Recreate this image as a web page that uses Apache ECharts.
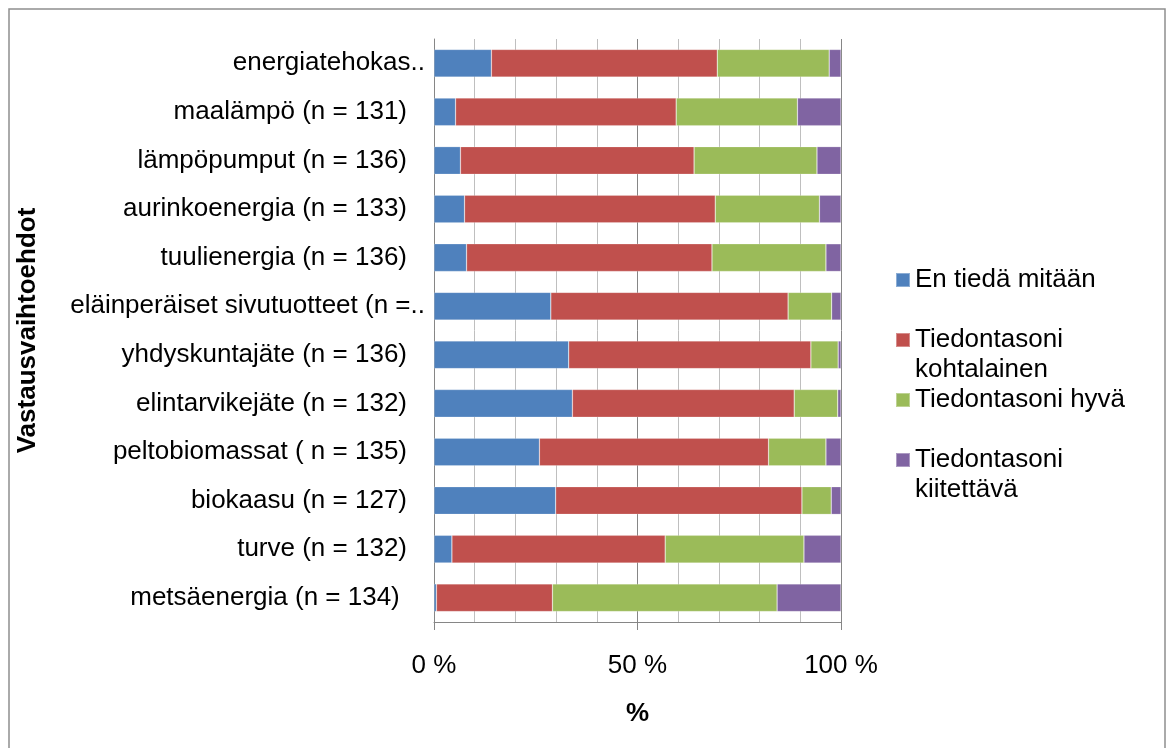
<!DOCTYPE html>
<html>
<head>
<meta charset="utf-8">
<title>Tiedontaso energiamuodoista</title>
<script src="https://cdn.jsdelivr.net/npm/echarts@6/dist/echarts.min.js"></script>
<style>
  html, body { margin: 0; padding: 0; background: #fff; }
  #chart { width: 1170px; height: 748px; }
</style>
</head>
<body>
<div id="chart"></div>
<script>
// Vastausvaihtoehdot, ylhäältä alas
const categories = [
  'energiatehokas..',
  'maalämpö (n = 131)',
  'lämpöpumput (n = 136)',
  'aurinkoenergia (n = 133)',
  'tuulienergia (n = 136)',
  'eläinperäiset sivutuotteet (n =..',
  'yhdyskuntajäte (n = 136)',
  'elintarvikejäte (n = 132)',
  'peltobiomassat ( n = 135)',
  'biokaasu (n = 127)',
  'turve (n = 132)',
  'metsäenergia (n = 134) '
];

const seriesNames = [
  'En tiedä mitään',
  'Tiedontasoni kohtalainen',
  'Tiedontasoni hyvä',
  'Tiedontasoni kiitettävä'
];

// Osuudet prosentteina (%)
const enTiedaMitaan = [14.1, 5.3, 6.5, 7.5, 8.0, 28.7, 33.1, 34.0, 25.9, 29.9, 4.4, 0.6];
const kohtalainen   = [55.5, 54.2, 57.4, 61.6, 60.3, 58.3, 59.5, 54.5, 56.3, 60.5, 52.4, 28.5];
const hyva          = [27.5, 29.8, 30.2, 25.6, 28.0, 10.7, 6.7, 10.7, 14.1, 7.2, 34.1, 55.2];
const kiitettava    = [2.9, 10.7, 5.9, 5.3, 3.7, 2.3, 0.7, 0.8, 3.7, 2.4, 9.1, 15.7];

const seriesValues = [enTiedaMitaan, kohtalainen, hyva, kiitettava];
const colors = ['#4F81BD', '#C0504D', '#9BBB59', '#8064A2'];

// legend names that wrap onto two lines
const wrappedNames = ['Tiedontasoni kohtalainen', 'Tiedontasoni kiitettävä'];

const FONT = "'Liberation Sans', Arial, sans-serif";
const AXIS_GRAY = '#868686';
const GRID_GRAY = '#BFBFBF';

const chart = echarts.init(document.getElementById('chart'), null, { renderer: 'canvas' });

chart.setOption({
  animation: false,
  backgroundColor: '#ffffff',
  color: colors,
  textStyle: { fontFamily: FONT },
  graphic: [{
    type: 'rect',
    silent: true,
    z: -10,
    shape: { x: 9, y: 9, width: 1156, height: 770 },
    style: { fill: 'none', stroke: '#8f8f8f', lineWidth: 1.5 }
  }],
  grid: { left: 434, right: 329, top: 39, bottom: 126, containLabel: false },
  legend: {
    orient: 'vertical',
    left: 895,
    top: 265,
    padding: 0,
    itemGap: 0,
    itemWidth: 14,
    itemHeight: 14,
    icon: 'rect',
    data: seriesNames,
    formatter: function (name) {
      return wrappedNames.indexOf(name) >= 0 ? '\n' + name.replace(' ', '\n') : name;
    },
    textStyle: { fontFamily: FONT, fontSize: 26, lineHeight: 30, color: '#000' }
  },
  xAxis: {
    type: 'value',
    min: 0,
    max: 100,
    interval: 50,
    name: '%',
    nameLocation: 'middle',
    nameGap: 79,
    nameTextStyle: { fontFamily: FONT, fontSize: 26, fontWeight: 'bold', color: '#000' },
    axisLine: { show: true, lineStyle: { color: AXIS_GRAY, width: 1 } },
    axisTick: { show: true, length: 8, lineStyle: { color: AXIS_GRAY, width: 1 } },
    axisLabel: {
      margin: 31,
      formatter: '{value} %',
      fontFamily: FONT,
      fontSize: 26,
      color: '#000'
    },
    splitLine: { show: true, lineStyle: { color: AXIS_GRAY, width: 1 } },
    minorTick: { show: false, splitNumber: 5 },
    minorSplitLine: { show: true, lineStyle: { color: GRID_GRAY, width: 1 } }
  },
  yAxis: {
    type: 'category',
    inverse: true,
    data: categories,
    name: 'Vastausvaihtoehdot',
    nameLocation: 'middle',
    nameRotate: 90,
    nameGap: 393,
    nameTextStyle: { fontFamily: FONT, fontSize: 26, fontWeight: 'bold', color: '#000' },
    axisLine: { show: true, lineStyle: { color: AXIS_GRAY, width: 1 } },
    axisTick: { show: false },
    splitLine: { show: false },
    axisLabel: {
      margin: 9,
      fontFamily: FONT,
      fontSize: 26,
      color: '#000',
      // shortened labels keep their dots past the common right edge
      formatter: function (v) {
        return v.slice(-2) === '..' ? v : '{p|' + v + '}';
      },
      rich: {
        p: { padding: [0, 18, 0, 0], fontFamily: FONT, fontSize: 26, color: '#000' }
      }
    }
  },
  series: seriesNames.map(function (name, i) {
    return {
      name: name,
      type: 'bar',
      stack: 'total',
      barCategoryGap: '43%',
      data: seriesValues[i],
      itemStyle: { color: colors[i], borderColor: 'rgba(255,255,255,0.35)', borderWidth: 0.6 }
    };
  })
});
</script>
</body>
</html>
